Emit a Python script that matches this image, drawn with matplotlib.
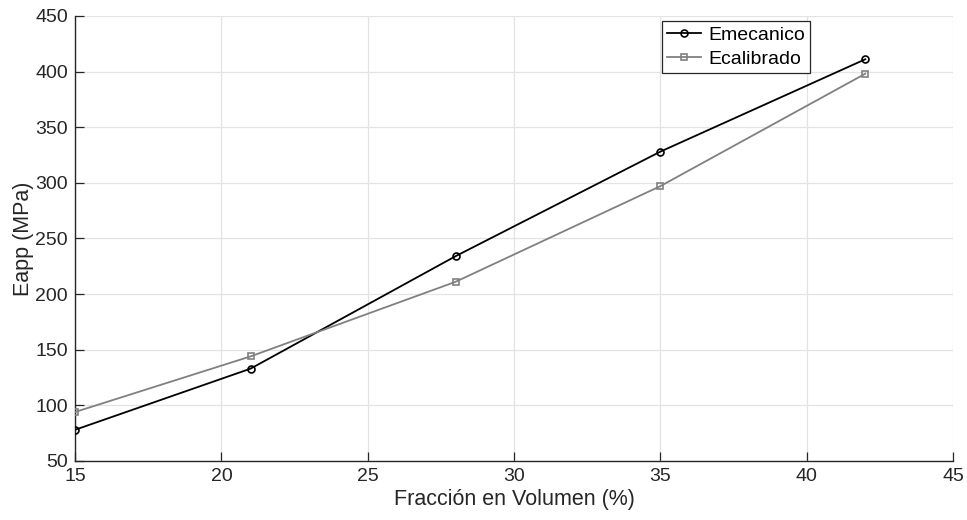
import matplotlib
matplotlib.use("Agg")
import matplotlib.pyplot as plt

fraccion = [15, 21, 28, 35, 42]
e_mecanico = [78, 133, 234, 328, 411]
e_calibrado = [94, 144, 211, 297, 398]

plt.rcParams["font.family"] = ["Liberation Sans", "DejaVu Sans"]

figure = plt.figure(figsize=(9.67, 5.2), dpi=100)
axis = figure.add_axes([0.0776, 0.1135, 0.908, 0.856])

axis.plot(fraccion, e_mecanico, color="black", linewidth=1.3,
          marker="o", markersize=5, markerfacecolor="none",
          markeredgewidth=1.2, label="Emecanico", zorder=3)
axis.plot(fraccion, e_calibrado, color="#808080", linewidth=1.3,
          marker="s", markersize=4, markerfacecolor="none",
          markeredgewidth=1.2, label="Ecalibrado", zorder=3)

axis.set_xlim(15, 45)
axis.set_ylim(50, 450)
axis.set_xticks(range(15, 46, 5))
axis.set_yticks(range(50, 451, 50))
axis.grid(True, color="#e3e3e3", linewidth=0.9)
axis.set_axisbelow(True)
for side in ("top", "right"):
    axis.spines[side].set_visible(False)
for side in ("left", "bottom"):
    axis.spines[side].set_color("#262626")
    axis.spines[side].set_linewidth(1.0)
axis.tick_params(direction="in", length=6.5, labelsize=14,
                 colors="#262626", width=0.9, pad=5)

axis.set_xlabel("Fracción en Volumen (%)", fontsize=15.5, color="#262626",
                labelpad=3)
axis.set_ylabel("Eapp (MPa)", fontsize=15.5, color="#262626", labelpad=1)

legend = axis.legend(loc="upper left", bbox_to_anchor=(0.669, 0.988),
                     fontsize=14, frameon=True, fancybox=False,
                     edgecolor="#262626", framealpha=1.0,
                     handlelength=1.75, handletextpad=0.35,
                     borderpad=0.25, labelspacing=0.35, borderaxespad=0)
legend.get_frame().set_linewidth(0.9)

plt.savefig("out.png", dpi=100)
